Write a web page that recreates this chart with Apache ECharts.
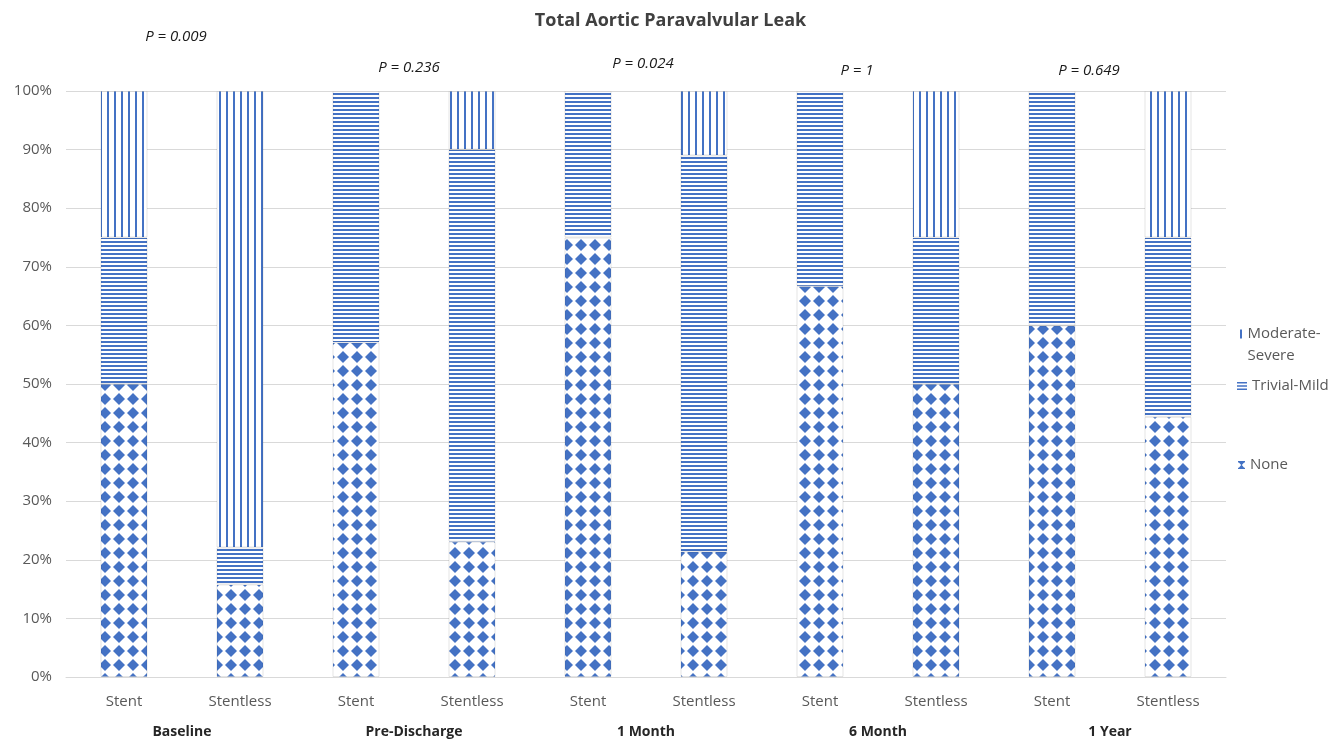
<!DOCTYPE html>
<html>
<head>
<meta charset="utf-8">
<script src="https://cdn.jsdelivr.net/npm/echarts@6/dist/echarts.min.js"></script>
<style>
  html, body { margin: 0; padding: 0; background: #fff; }
  #chart { width: 1341px; height: 739px; }
</style>
</head>
<body>
<div id="chart"></div>
<script>
// Categories: valve type within each follow-up time point
const bars = ['Stent', 'Stentless', 'Stent', 'Stentless', 'Stent', 'Stentless', 'Stent', 'Stentless', 'Stent', 'Stentless'];
const groups = ['Baseline', 'Pre-Discharge', '1 Month', '6 Month', '1 Year'];
const pValues = ['P = 0.009', 'P = 0.236', 'P = 0.024', 'P = 1', 'P = 0.649'];

// Percent of patients per leak grade
const noneVals = [50, 15.8, 57.1, 23.1, 75, 21.4, 66.7, 50, 60, 44.4];
const trivialMildVals = [25, 6.3, 42.9, 66.9, 25, 67.6, 33.3, 25, 40, 30.6];
const modSevereVals = [25, 77.9, 0, 10, 0, 11, 0, 25, 0, 25];

const yTicks = [0, 10, 20, 30, 40, 50, 60, 70, 80, 90, 100];

const BLUE = '#4472C4';
const TEXT = '#595959';
const FONT = '"Open Sans", "Liberation Sans", sans-serif';

// Tiled fills for each grade
function makePattern(kind) {
  const c = document.createElement('canvas');
  const ctx = c.getContext('2d');
  if (kind === 'vertical') {
    c.width = 7; c.height = 8;
    ctx.fillStyle = '#fff'; ctx.fillRect(0, 0, 7, 8);
    ctx.fillStyle = BLUE; ctx.fillRect(2, 0, 2, 8);
  } else if (kind === 'horizontal') {
    c.width = 8; c.height = 4;
    ctx.fillStyle = '#fff'; ctx.fillRect(0, 0, 8, 4);
    ctx.fillStyle = BLUE; ctx.fillRect(0, 1, 8, 2);
  } else {
    c.width = 14; c.height = 14;
    ctx.fillStyle = '#fff'; ctx.fillRect(0, 0, 14, 14);
    ctx.fillStyle = BLUE;
    ctx.beginPath();
    ctx.moveTo(7, 1); ctx.lineTo(13, 7); ctx.lineTo(7, 13); ctx.lineTo(1, 7); ctx.closePath();
    ctx.fill();
  }
  return { image: c, repeat: 'repeat' };
}

const chart = echarts.init(document.getElementById('chart'), null, { renderer: 'canvas' });

const barStyle = (kind) => ({
  color: makePattern(kind),
  borderColor: 'rgba(0,0,0,0.10)',
  borderWidth: 1
});

function legendBlock(name, left, top, icon, w, h) {
  return {
    orient: 'vertical',
    left: left,
    top: top,
    padding: 0,
    itemWidth: w,
    itemHeight: h,
    itemGap: 0,
    selectedMode: false,
    textStyle: { color: TEXT, fontFamily: FONT, fontSize: 15, lineHeight: 22 },
    data: [{ name: name, icon: icon, itemStyle: { color: BLUE, borderWidth: 0 } }],
    formatter: (n) => n === 'Moderate-Severe' ? 'Moderate-\nSevere' : n
  };
}

chart.setOption({
  animation: false,
  title: {
    text: 'Total Aortic Paravalvular Leak',
    left: 'center',
    top: 7,
    textStyle: { fontFamily: FONT, fontSize: 18, fontWeight: 'bold', color: '#404040' }
  },
  legend: [
    legendBlock('Moderate-Severe', 1240, 323, 'path://M0,0h2v9h-2z M0,31h0.01v0.01z', 3, 31),
    legendBlock('Trivial-Mild', 1237, 375, 'path://M0,0h10v1.6h-10z M0,3.2h10v1.6h-10z M0,6.4h10v1.6h-10z', 10, 8),
    legendBlock('None', 1238, 454, 'path://M0,0h8v1.5h-1l-2.6,3l2.6,3h1v1.5h-8v-1.5h1l2.6,-3l-2.6,-3h-1z', 7, 9)
  ],
  grid: { left: 66, right: 115, top: 91, bottom: 60, containLabel: false },
  xAxis: [
    {
      type: 'category',
      data: bars,
      axisLine: { lineStyle: { color: '#d9d9d9', width: 1 } },
      axisTick: { show: false },
      axisLabel: { color: TEXT, fontFamily: FONT, fontSize: 15, margin: 17 }
    },
    {
      type: 'category',
      data: groups,
      position: 'bottom',
      offset: 34,
      axisLine: { show: false },
      axisTick: { show: false },
      axisLabel: { color: '#262626', fontFamily: FONT, fontSize: 14, fontWeight: 'bold', margin: 14 }
    }
  ],
  yAxis: {
    type: 'value',
    min: 0,
    max: 100,
    interval: 10,
    axisLine: { show: false },
    axisTick: { show: false },
    splitLine: { lineStyle: { color: '#d9d9d9', width: 1 } },
    axisLabel: {
      color: TEXT, fontFamily: FONT, fontSize: 15, margin: 14,
      formatter: (v) => yTicks.includes(v) ? v + '%' : ''
    }
  },
  series: [
    {
      name: 'None', type: 'bar', stack: 'leak', barWidth: 47,
      data: noneVals, itemStyle: barStyle('diamond')
    },
    {
      name: 'Trivial-Mild', type: 'bar', stack: 'leak', barWidth: 47,
      data: trivialMildVals, itemStyle: barStyle('horizontal')
    },
    {
      name: 'Moderate-Severe', type: 'bar', stack: 'leak', barWidth: 47,
      data: modSevereVals.map(v => v === 0 ? null : v), itemStyle: barStyle('vertical')
    }
  ]
});

// P-value annotations above each time point
const pTop = [37, 68, 64, 71, 71];
const pShift = [-6, -5, -3, -21, -21];
const graphics = groups.map((g, i) => ({
  type: 'text',
  x: chart.convertToPixel({ xAxisIndex: 1 }, g) + pShift[i],
  y: pTop[i],
  style: {
    text: pValues[i],
    fill: '#1a1a1a',
    font: 'italic 15px ' + FONT,
    textAlign: 'center',
    textVerticalAlign: 'middle'
  }
}));
chart.setOption({ graphic: graphics });
</script>
</body>
</html>
